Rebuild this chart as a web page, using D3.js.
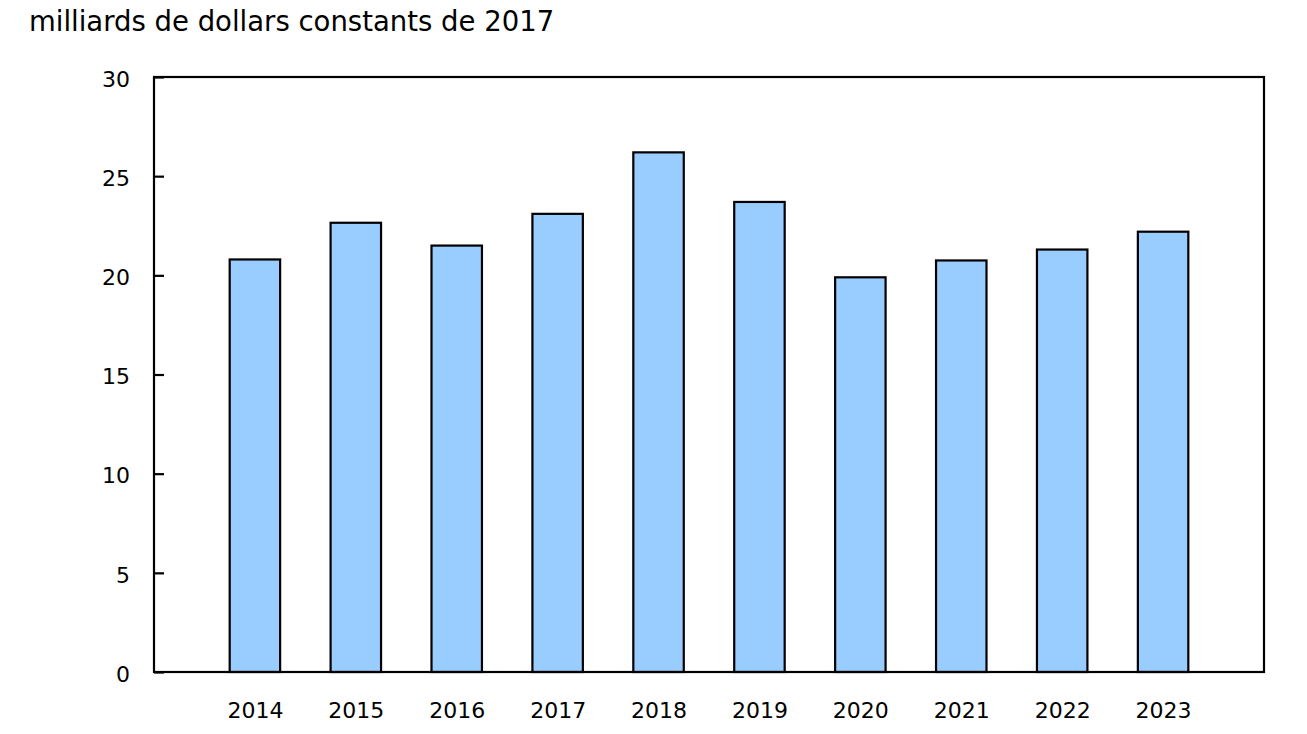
<!DOCTYPE html>
<html>
<head>
<meta charset="utf-8">
<script src="https://cdn.jsdelivr.net/npm/d3@7"></script>
<style>
  html, body { margin: 0; padding: 0; background: #fff; }
  svg { display: block; font-family: Verdana, "DejaVu Sans", sans-serif; }
</style>
</head>
<body>
<svg id="chart" width="1307" height="734"></svg>
<script>
const years = ["2014", "2015", "2016", "2017", "2018", "2019", "2020", "2021", "2022", "2023"];
const values = [20.8, 22.65, 21.5, 23.1, 26.2, 23.7, 19.9, 20.75, 21.3, 22.2];
const yTicks = [0, 5, 10, 15, 20, 25, 30];
const unitLabel = "milliards de dollars constants de 2017";

const svg = d3.select("#chart");
const plotLeft = 154, plotRight = 1264, plotTop = 77, plotBottom = 672;

const x = d3.scalePoint().domain(years).range([plotLeft, plotRight]).padding(1);
const y = d3.scaleLinear().domain([0, 30]).range([plotBottom, plotTop]);
const barW = x.step() * 0.5;

svg.append("text")
  .attr("x", 29).attr("y", 31)
  .attr("font-size", 27.5)
  .attr("fill", "#000")
  .text(unitLabel);

// bars
svg.append("g").selectAll("rect")
  .data(years.map((yr, i) => ({ yr, v: values[i] })))
  .join("rect")
  .attr("x", d => x(d.yr) - barW / 2)
  .attr("y", d => y(d.v))
  .attr("width", barW)
  .attr("height", d => y(0) - y(d.v))
  .attr("fill", "#99ccff")
  .attr("stroke", "#000")
  .attr("stroke-width", 2.2);

// frame
svg.append("rect")
  .attr("x", plotLeft).attr("y", plotTop)
  .attr("width", plotRight - plotLeft).attr("height", plotBottom - plotTop)
  .attr("fill", "none").attr("stroke", "#000").attr("stroke-width", 2.2);

// y axis
const yAxis = d3.axisLeft(y).tickValues(yTicks).tickSize(-10).tickPadding(24).tickFormat(d3.format("d"));
const gy = svg.append("g").attr("transform", `translate(${plotLeft},0)`).call(yAxis);
gy.select(".domain").remove();
gy.selectAll(".tick line").attr("stroke", "#000").attr("stroke-width", 2.2);
gy.selectAll(".tick text").attr("font-size", 22).attr("fill", "#000")
  .attr("font-family", 'Verdana, "DejaVu Sans", sans-serif').attr("dy", "0.42em");

// x axis
const xAxis = d3.axisBottom(x).tickSize(0).tickPadding(30);
const gx = svg.append("g").attr("transform", `translate(0,${plotBottom})`).call(xAxis);
gx.select(".domain").remove();
gx.selectAll(".tick text").attr("font-size", 22).attr("fill", "#000")
  .attr("font-family", 'Verdana, "DejaVu Sans", sans-serif');
</script>
</body>
</html>
